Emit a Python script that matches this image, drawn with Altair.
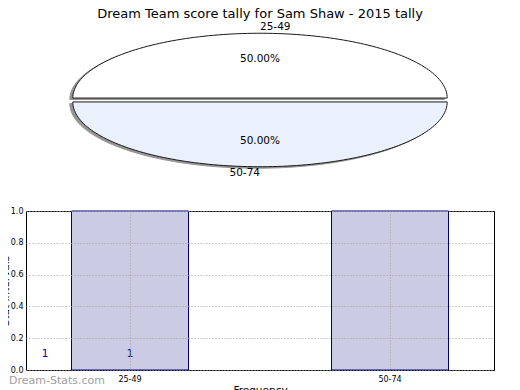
import altair as alt
import pandas as pd
import numpy as np

# ---- data ----
categories = ["25-49", "50-74"]
counts = [1, 1]
y_ticks = [0.0, 0.2, 0.4, 0.6, 0.8, 1.0]
chart_title = "Dream Team score tally for Sam Shaw - 2015 tally"
watermark = ["Dream-Stats.com"]
pie_colors = ["#ffffff", "#eaf0fc"]

FONT = "DejaVu Sans"
EXPLODE = 0.03
N_ARC = 120

# ---- pie geometry derived from counts ----
total = sum(counts)
poly_rows, label_rows = [], []
start = 0.0
for cat, c in zip(categories, counts):
    frac = c / total
    a0, a1 = start * 2 * np.pi, (start + frac) * 2 * np.pi
    mid = (a0 + a1) / 2
    ox, oy = EXPLODE * np.cos(mid), EXPLODE * np.sin(mid)
    pts = [(ox, oy)] + [(ox + np.cos(t), oy + np.sin(t)) for t in np.linspace(a0, a1, N_ARC)] + [(ox, oy)]
    for k, (px, py) in enumerate(pts):
        poly_rows.append({"slice": cat, "order": k, "x": px, "y": py})
    lx, ly = ox + 1.1 * np.cos(mid), oy + 1.1 * np.sin(mid)
    label_rows.append({
        "slice": cat, "lx": lx, "ly": ly, "ha": "left" if lx > 0 else "right",
        "px": ox + 0.6 * np.cos(mid), "py": oy + 0.6 * np.sin(mid),
        "pct": f"{frac * 100:.2f}%",
    })
    start += frac

poly = pd.DataFrame(poly_rows)
plabels = pd.DataFrame(label_rows)

xs = alt.Scale(domain=[-1.25, 1.25])
ys = alt.Scale(domain=[-1.25, 1.25])
X = alt.X("x:Q", scale=xs, axis=None)
Y = alt.Y("y:Q", scale=ys, axis=None)

shadow = alt.Chart(poly).mark_line(
    fill="#8a8a8a", stroke="#8a8a8a", strokeWidth=1, xOffset=-3, yOffset=1.5, opacity=0.9
).encode(x=X, y=Y, detail="slice:N", order="order:Q")

slices = alt.Chart(poly).mark_line(stroke="#1a1a1a", strokeWidth=1).encode(
    x=X, y=Y, detail="slice:N", order="order:Q",
    fill=alt.Fill("slice:N", scale=alt.Scale(domain=categories, range=pie_colors), legend=None),
)

lab_left = alt.Chart(plabels).transform_filter("datum.ha == 'left'").mark_text(
    align="left", baseline="middle", fontSize=10.5, font=FONT, color="black"
).encode(x=alt.X("lx:Q", scale=xs, axis=None), y=alt.Y("ly:Q", scale=ys, axis=None), text="slice:N")
lab_right = alt.Chart(plabels).transform_filter("datum.ha == 'right'").mark_text(
    align="right", baseline="middle", fontSize=10.5, font=FONT, color="black"
).encode(x=alt.X("lx:Q", scale=xs, axis=None), y=alt.Y("ly:Q", scale=ys, axis=None), text="slice:N")
lab_pct = alt.Chart(plabels).mark_text(
    align="center", baseline="middle", fontSize=10.5, font=FONT, color="black"
).encode(x=alt.X("px:Q", scale=xs, axis=None), y=alt.Y("py:Q", scale=ys, axis=None), text="pct:N")

pie = alt.layer(shadow, slices, lab_left, lab_right, lab_pct).properties(
    width=468, height=162,
    view=alt.ViewBackground(stroke="transparent", strokeWidth=0),
    title=alt.Title(chart_title, fontSize=13, font=FONT, fontWeight="normal", color="black",
                    anchor="middle", offset=-2),
)

# ---- bar chart ----
bar_df = pd.DataFrame({"category": categories, "count": counts})

bx = alt.X("category:N", sort=categories,
           scale=alt.Scale(paddingInner=0.55, paddingOuter=0.175),
           axis=alt.Axis(title="Frequency", labelAngle=0, labelFontSize=8, labelFont=FONT,
                         labelColor="black", bandPosition=0.5, grid=True, gridDash=[1, 2],
                         gridColor="#a0a0a0", ticks=False, domain=False, labelPadding=5,
                         titleFontSize=10.5, titleFont=FONT, titleFontWeight="normal",
                         titleColor="black", titlePadding=2, zindex=1))
by = alt.Y("count:Q", scale=alt.Scale(domain=[0, 1], nice=False),
           axis=alt.Axis(values=y_ticks, tickCount=len(y_ticks), labelOverlap=False, format=".1f",
                         title="Stat Intervals", labelFontSize=8,
                         labelFont=FONT, labelColor="black", grid=True, gridDash=[1, 2],
                         gridColor="#a0a0a0", ticks=False, domain=False, labelPadding=3,
                         titleFontSize=10.5, titleFont=FONT, titleFontWeight="normal",
                         titleColor="black", titlePadding=0, zindex=1))

bars = alt.Chart(bar_df).mark_bar(fill="#cbcbe4", stroke="#00007f", strokeWidth=1).encode(x=bx, y=by)

cnt1 = alt.Chart(bar_df.iloc[[0]]).mark_text(
    dx=-85, fontSize=10.5, font=FONT, color="#00008b", baseline="middle"
).encode(x=alt.datum(categories[0]), y=alt.datum(0.1), text="count:Q")
cnt2 = alt.Chart(bar_df.iloc[[1]]).mark_text(
    fontSize=10.5, font=FONT, color="#00008b", baseline="middle"
).encode(x=alt.datum(categories[0]), y=alt.datum(0.1), text="count:Q")

wm = alt.Chart(pd.DataFrame({"t": watermark})).mark_text(
    align="left", baseline="middle", fontSize=11, font=FONT, color="#a0a0a0"
).encode(x=alt.value(-17), y=alt.value(170), text="t:N")

bar = alt.layer(bars, cnt1, cnt2, wm).properties(
    width=468, height=159,
    view=alt.ViewBackground(stroke="black", strokeWidth=1),
)

chart = alt.vconcat(pie, bar, spacing=25).properties(
    padding={"left": -9, "top": 0, "right": 0, "bottom": 0},
    background="white",
).configure_view(strokeWidth=0)

chart.save("out.html", embed_options={"renderer": "svg", "actions": False})
